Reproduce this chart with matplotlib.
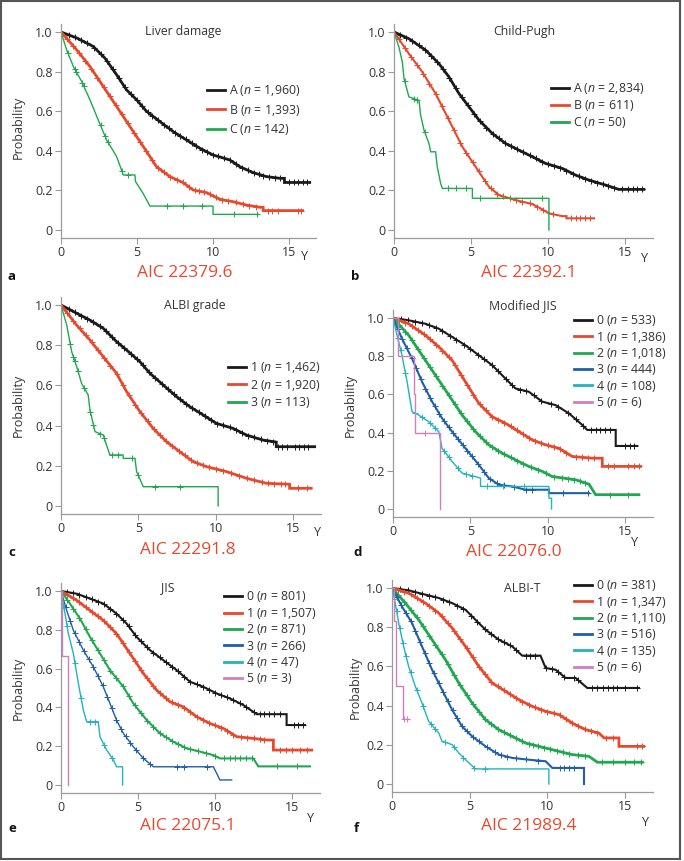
import matplotlib
matplotlib.use("Agg")
import matplotlib.pyplot as plt
import numpy as np
from matplotlib.patches import Rectangle

plt.rcParams['font.family'] = ['Open Sans', 'DejaVu Sans']
plt.rcParams['mathtext.fontset'] = 'custom'
plt.rcParams['mathtext.it'] = 'Open Sans:italic'
plt.rcParams['mathtext.rm'] = 'Open Sans'

W, H = 684, 861
XMAX, YMIN, YMAX = 16.8, -0.04, 1.04

BLACK = '#1a1a1a'
RED = '#e8492d'
GREEN = '#1fa84f'
BLUE = '#1f5fa8'
CYAN = '#22b3bd'
PINK = '#d47cc0'
TXT = '#333333'
AXC = '#9a9a9a'

# ---------------------------------------------------------------- a: Liver damage
a_names = ['A', 'B', 'C']
a_n = ['1,960', '1,393', '142']
a_t0 = [0, 1.03, 2.12, 2.89, 3.66, 4.31, 4.97, 5.63, 6.5, 7.38, 8.25, 9.13, 10.0, 11.1, 11.76, 12.63, 13.5, 14.4, 14.7, 14.7, 16.36]
a_s0 = [1.0, 0.97, 0.927, 0.868, 0.784, 0.708, 0.658, 0.599, 0.548, 0.497, 0.455, 0.413, 0.379, 0.354, 0.32, 0.29, 0.27, 0.261, 0.261, 0.24, 0.24]
a_c0 = [0.5, 0.9, 1.3, 1.7, 2.2, 2.6, 3.0, 3.4, 3.8, 4.2, 4.6, 5.0, 5.3, 5.7, 6.0, 6.4, 6.8, 7.1, 7.5, 7.8, 8.2, 8.6,
        8.9, 9.3, 9.6, 10.0, 10.3, 10.7, 11.1, 11.5, 11.9, 12.3, 12.7, 13.0, 13.3, 13.7, 14.1, 14.4, 15.0, 15.3, 15.6, 15.9, 16.2]
a_t1 = [0, 1.03, 1.9, 2.78, 3.66, 4.53, 5.41, 6.28, 7.16, 8.04, 8.69, 9.57, 10.45, 11.32, 12.2, 13.07, 13.3, 13.3, 15.9]
a_s1 = [1.0, 0.91, 0.826, 0.725, 0.624, 0.523, 0.422, 0.32, 0.27, 0.239, 0.202, 0.189, 0.155, 0.143, 0.126, 0.115, 0.115, 0.098, 0.098]
a_c1 = [0.4, 0.8, 1.2, 1.6, 2.0, 2.4, 2.8, 3.2, 3.6, 4.0, 4.4, 4.8, 5.2, 5.6, 6.0, 6.4, 6.8, 7.2, 7.6, 8.0, 8.4, 8.8,
        9.1, 9.4, 9.8, 10.2, 10.6, 11.0, 11.5, 12.0, 12.4, 12.8, 13.6, 13.9, 14.3, 15.6, 15.8]
a_t2 = [0, 0.37, 0.81, 1.36, 1.9, 2.45, 3.0, 3.66, 4.1, 4.86, 4.9, 5.4, 5.85, 10.0, 10.0, 12.96]
a_s2 = [1.0, 0.91, 0.826, 0.75, 0.658, 0.556, 0.455, 0.371, 0.278, 0.278, 0.245, 0.185, 0.121, 0.121, 0.079, 0.079]
a_c2 = [0.45, 0.9, 1.0, 1.4, 1.5, 2.6, 2.9, 3.1, 4.0, 4.4, 7.0, 8.0, 9.3, 11.4, 12.9]

# ---------------------------------------------------------------- b: Child-Pugh
b_names = ['A', 'B', 'C']
b_n = ['2,834', '611', '50']
b_t0 = [0, 0.97, 2.06, 2.92, 3.57, 4.22, 4.87, 5.52, 6.39, 7.25, 8.12, 8.98, 9.85, 10.93, 11.8, 12.66, 13.74, 14.6, 16.23]
b_s0 = [1.0, 0.966, 0.908, 0.84, 0.773, 0.689, 0.622, 0.555, 0.487, 0.437, 0.403, 0.37, 0.336, 0.311, 0.277, 0.252, 0.227, 0.205, 0.205]
b_c0 = [0.4, 0.8, 1.2, 1.6, 2.0, 2.4, 2.8, 3.2, 3.6, 4.0, 4.4, 4.8, 5.2, 5.6, 6.0, 6.4, 6.8, 7.2, 7.6, 8.0, 8.4, 8.8,
        9.2, 9.6, 10.0, 10.4, 10.8, 11.2, 11.6, 12.0, 12.4, 12.8, 13.2, 13.6, 13.9, 14.3, 14.8, 15.2, 15.5, 15.8, 16.1]
b_t1 = [0, 0.97, 1.84, 2.7, 3.57, 4.44, 5.3, 6.17, 6.82, 7.9, 8.98, 9.63, 10.06, 10.93, 11.2, 11.2, 12.99]
b_s1 = [1.0, 0.89, 0.798, 0.689, 0.555, 0.42, 0.319, 0.218, 0.176, 0.151, 0.131, 0.104, 0.084, 0.07, 0.07, 0.059, 0.059]
b_c1 = [0.3, 0.7, 1.1, 1.5, 1.9, 2.3, 2.7, 3.1, 3.5, 3.9, 4.3, 4.7, 5.1, 5.5, 5.9, 6.3, 6.7, 7.1, 7.5, 7.9, 8.3,
        8.8, 9.3, 9.7, 10.3, 11.5, 11.8, 12.1, 12.4, 12.7]
b_t2 = [0, 0.32, 0.54, 0.65, 0.97, 1.62, 1.73, 1.95, 2.27, 2.38, 2.7, 2.81, 3.03, 3.14, 5.09, 5.09, 10.06, 10.06]
b_s2 = [1.0, 0.924, 0.849, 0.765, 0.672, 0.655, 0.58, 0.504, 0.437, 0.395, 0.395, 0.319, 0.235, 0.21, 0.21, 0.16, 0.16, 0.0]
b_c2 = [0.7, 1.3, 1.5, 2.0, 3.5, 4.0, 4.7, 5.6, 9.6]

# ---------------------------------------------------------------- c: ALBI grade
c_names = ['1', '2', '3']
c_n = ['1,462', '1,920', '113']
c_t0 = [0, 1.01, 1.87, 2.73, 3.59, 4.24, 5.1, 5.75, 6.61, 7.47, 8.33, 9.19, 10.05, 11.13, 11.99, 13.06, 13.92, 13.92, 16.4]
c_s0 = [1.0, 0.959, 0.925, 0.884, 0.818, 0.776, 0.718, 0.66, 0.602, 0.544, 0.494, 0.453, 0.411, 0.386, 0.353, 0.328, 0.318, 0.295, 0.295]
c_c0 = [0.5, 0.9, 1.3, 1.7, 2.1, 2.5, 2.9, 3.3, 3.7, 4.1, 4.5, 4.9, 5.3, 5.7, 6.1, 6.5, 6.9, 7.3, 7.7, 8.1, 8.5,
        8.9, 9.3, 9.7, 10.1, 10.5, 10.9, 11.3, 11.7, 12.1, 12.5, 12.9, 13.3, 13.7, 14.0, 14.3, 14.6, 15.1, 15.4, 15.7, 16.0]
c_t1 = [0, 1.01, 1.87, 2.73, 3.59, 4.24, 5.1, 5.96, 6.82, 7.68, 8.54, 9.4, 10.7, 11.99, 13.28, 14.78, 14.78, 16.18]
c_s1 = [1.0, 0.9, 0.826, 0.743, 0.66, 0.569, 0.47, 0.386, 0.32, 0.27, 0.221, 0.196, 0.171, 0.138, 0.113, 0.108, 0.088, 0.088]
c_c1 = [0.4, 0.8, 1.2, 1.6, 2.0, 2.4, 2.8, 3.2, 3.6, 4.0, 4.4, 4.8, 5.2, 5.6, 6.0, 6.4, 6.8, 7.2, 7.6, 8.0, 8.4, 8.8,
        9.2, 9.6, 10.0, 10.5, 11.0, 11.5, 12.0, 12.5, 13.0, 13.4, 13.8, 14.2, 14.5, 15.3, 15.9]
c_t2 = [0, 0.37, 0.69, 1.01, 1.33, 1.76, 1.87, 2.2, 2.73, 3.16, 4.02, 4.02, 4.78, 4.89, 5.32, 10.16, 10.16]
c_s2 = [1.0, 0.9, 0.768, 0.694, 0.61, 0.552, 0.478, 0.37, 0.353, 0.254, 0.254, 0.237, 0.237, 0.171, 0.096, 0.096, 0.0]
c_c2 = [0.6, 0.8, 0.9, 1.1, 1.5, 1.9, 2.1, 2.5, 2.8, 3.3, 3.7, 4.6, 5.0, 6.1, 7.7]

# ---------------------------------------------------------------- d: Modified JIS
d_names = ['0', '1', '2', '3', '4', '5']
d_n = ['533', '1,386', '1,018', '444', '108', '6']
d_t0 = [0, 1.01, 2.09, 2.96, 3.82, 4.68, 5.55, 6.41, 7.27, 7.92, 8.78, 9.65, 10.51, 11.37, 12.24, 12.56, 14.4, 14.4, 15.8]
d_s0 = [1.0, 0.988, 0.97, 0.944, 0.901, 0.857, 0.805, 0.753, 0.683, 0.631, 0.614, 0.562, 0.544, 0.501, 0.44, 0.414, 0.414, 0.33, 0.33]
d_c0 = [0.5, 1.0, 1.4, 1.9, 2.3, 2.8, 3.2, 3.7, 4.1, 4.6, 5.0, 5.5, 5.9, 6.4, 6.8, 7.3, 7.7, 8.2, 8.6, 9.1, 9.6,
        10.2, 10.7, 11.3, 11.8, 12.3, 12.8, 13.1, 13.4, 13.7, 14.0, 15.0, 15.3, 15.6]
d_t1 = [0, 1.01, 2.09, 2.96, 3.82, 4.68, 5.55, 6.41, 7.27, 8.14, 9.0, 9.86, 10.73, 11.59, 12.89, 13.53, 13.53, 16.0]
d_s1 = [1.0, 0.97, 0.91, 0.849, 0.779, 0.666, 0.553, 0.483, 0.449, 0.405, 0.362, 0.336, 0.318, 0.275, 0.266, 0.266, 0.223, 0.223]
d_c1 = [0.4, 0.8, 1.2, 1.6, 2.0, 2.4, 2.8, 3.2, 3.6, 4.0, 4.4, 4.8, 5.2, 5.6, 6.0, 6.4, 6.8, 7.2, 7.6, 8.0, 8.4, 8.8,
        9.2, 9.6, 10.0, 10.4, 10.8, 11.2, 11.8, 12.2, 12.6, 13.0, 13.9, 14.3, 15.2, 15.6, 15.9]
d_t2 = [0, 1.01, 1.88, 2.74, 3.6, 4.47, 5.33, 6.19, 7.06, 7.92, 8.78, 9.65, 10.3, 11.81, 12.67, 13.1, 15.9]
d_s2 = [1.0, 0.91, 0.805, 0.701, 0.597, 0.492, 0.405, 0.336, 0.292, 0.257, 0.223, 0.197, 0.17, 0.153, 0.13, 0.075, 0.075]
d_c2 = [0.4, 0.8, 1.2, 1.6, 2.0, 2.4, 2.8, 3.2, 3.6, 4.0, 4.4, 4.8, 5.2, 5.6, 6.0, 6.4, 6.8, 7.2, 7.6, 8.0, 8.4,
        8.9, 9.4, 9.9, 10.4, 10.9, 11.3, 11.7, 12.1, 12.4, 14.0, 15.2]
d_t3 = [0, 0.58, 1.23, 1.88, 2.53, 3.17, 3.82, 4.68, 5.55, 6.19, 6.84, 7.71, 8.57, 9.86, 10.08, 10.08, 12.67]
d_s3 = [1.0, 0.892, 0.788, 0.666, 0.562, 0.475, 0.405, 0.318, 0.231, 0.162, 0.127, 0.118, 0.101, 0.101, 0.101, 0.083, 0.083]
d_c3 = [0.3, 0.6, 0.9, 1.2, 1.5, 1.8, 2.1, 2.4, 2.7, 3.0, 3.3, 3.6, 3.9, 4.2, 4.5, 4.8, 5.1, 5.5, 5.9, 6.3, 6.7,
        7.2, 7.8, 8.6, 9.0, 11.0, 12.6]
d_t4 = [0, 0.26, 0.58, 0.91, 1.23, 1.66, 2.31, 2.96, 3.17, 3.82, 4.47, 5.66, 5.66, 10.08, 10.08, 10.25, 10.25]
d_s4 = [1.0, 0.91, 0.805, 0.666, 0.51, 0.492, 0.457, 0.405, 0.318, 0.249, 0.188, 0.162, 0.118, 0.118, 0.057, 0.057, 0.0]
d_c4 = [0.3, 0.5, 0.8, 1.4, 1.9, 2.4, 2.7, 3.3, 3.6, 4.2, 4.7, 5.1, 6.1, 7.1, 8.5]
d_t5 = [0, 0.3, 0.3, 1.34, 1.34, 1.4, 1.4, 3.02, 3.02]
d_s5 = [1.0, 1.0, 0.8, 0.8, 0.6, 0.6, 0.4, 0.4, 0.0]
d_c5 = [2.1]

# ---------------------------------------------------------------- e: JIS
e_names = ['0', '1', '2', '3', '4', '5']
e_n = ['801', '1,507', '871', '266', '47', '3']
e_t0 = [0, 1.02, 1.88, 2.75, 3.61, 4.26, 4.91, 5.78, 6.65, 7.51, 8.38, 9.24, 10.11, 10.97, 11.84, 12.71, 14.65, 14.65, 15.84]
e_s0 = [1.0, 0.986, 0.961, 0.935, 0.883, 0.832, 0.763, 0.695, 0.643, 0.592, 0.532, 0.506, 0.472, 0.446, 0.412, 0.365, 0.365, 0.309, 0.309]
e_c0 = [0.4, 0.8, 1.2, 1.6, 2.0, 2.4, 2.8, 3.2, 3.6, 4.0, 4.4, 4.8, 5.2, 5.6, 6.0, 6.4, 6.8, 7.2, 7.6, 8.0, 8.4,
        8.8, 9.2, 9.6, 10.0, 10.4, 10.8, 11.2, 11.6, 12.0, 12.5, 12.9, 13.2, 13.5, 13.8, 14.2, 15.1, 15.4, 15.7]
e_t1 = [0, 1.02, 1.88, 2.75, 3.61, 4.48, 5.35, 6.21, 7.08, 7.94, 8.81, 9.68, 10.54, 11.41, 12.49, 13.35, 13.79, 13.79, 16.28]
e_s1 = [1.0, 0.952, 0.9, 0.849, 0.78, 0.678, 0.575, 0.489, 0.429, 0.403, 0.352, 0.317, 0.292, 0.249, 0.24, 0.232, 0.232, 0.18, 0.18]
e_c1 = [0.4, 0.8, 1.2, 1.6, 2.0, 2.4, 2.8, 3.2, 3.6, 4.0, 4.4, 4.8, 5.2, 5.6, 6.0, 6.4, 6.8, 7.2, 7.6, 8.0, 8.4,
        8.8, 9.2, 9.6, 10.0, 10.4, 10.8, 11.2, 11.7, 12.1, 12.5, 12.9, 13.2, 14.2, 14.6, 15.0, 15.5, 16.0]
e_t2 = [0, 0.58, 1.23, 1.88, 2.53, 3.18, 4.05, 4.7, 5.56, 6.43, 7.29, 8.16, 9.03, 9.89, 10.32, 12.49, 12.81, 16.17]
e_s2 = [1.0, 0.935, 0.858, 0.763, 0.678, 0.592, 0.506, 0.42, 0.335, 0.266, 0.223, 0.189, 0.172, 0.154, 0.137, 0.137, 0.096, 0.096]
e_c2 = [0.4, 0.8, 1.2, 1.6, 2.0, 2.4, 2.8, 3.2, 3.6, 4.0, 4.4, 4.8, 5.2, 5.6, 6.0, 6.4, 6.8, 7.2, 7.6, 8.0, 8.4,
        8.9, 9.4, 10.0, 10.6, 11.0, 11.3, 11.6, 12.0, 12.4, 14.0, 15.3]
e_t3 = [0, 0.37, 0.8, 1.45, 2.1, 2.75, 3.18, 3.61, 4.05, 4.7, 5.35, 6.0, 9.89, 10.11, 10.32, 11.08]
e_s3 = [1.0, 0.9, 0.798, 0.695, 0.609, 0.506, 0.42, 0.334, 0.266, 0.197, 0.137, 0.094, 0.094, 0.06, 0.026, 0.026]
e_c3 = [0.3, 0.6, 0.9, 1.2, 1.5, 1.8, 2.1, 2.4, 2.7, 3.0, 3.3, 3.6, 3.9, 4.2, 4.5, 4.9, 5.3, 5.8, 7.5, 8.0, 9.5]
e_t4 = [0, 0.26, 0.48, 0.8, 1.13, 1.45, 1.67, 2.42, 2.53, 2.97, 3.4, 3.61, 4.0, 4.0]
e_s4 = [1.0, 0.883, 0.78, 0.678, 0.523, 0.386, 0.326, 0.326, 0.249, 0.18, 0.129, 0.094, 0.094, 0.0]
e_c4 = [0.2, 0.4, 0.9, 1.3, 1.9, 2.2, 2.8, 3.3]
e_t5 = [0, 0.06, 0.06, 0.48, 0.48]
e_s5 = [1.0, 1.0, 0.667, 0.667, 0.0]
e_c5 = []

# ---------------------------------------------------------------- f: ALBI-T
f_names = ['0', '1', '2', '3', '4', '5']
f_n = ['381', '1,347', '1,110', '516', '135', '6']
f_t0 = [0, 1.07, 2.15, 3.01, 3.87, 4.73, 5.37, 6.02, 6.88, 7.74, 8.38, 9.56, 9.89, 10.53, 11.18, 11.82, 12.57, 15.9]
f_s0 = [1.0, 0.988, 0.966, 0.949, 0.923, 0.889, 0.838, 0.787, 0.736, 0.702, 0.655, 0.655, 0.592, 0.583, 0.541, 0.541, 0.49, 0.49]
f_c0 = [0.5, 1.0, 1.5, 1.9, 2.4, 2.8, 3.3, 3.7, 4.2, 4.6, 5.1, 5.5, 6.0, 6.4, 6.8, 7.2, 7.6, 8.0, 8.6, 8.9, 9.2,
        9.9, 10.3, 10.7, 11.1, 11.7, 12.0, 12.9, 13.2, 13.6, 13.9, 14.2, 14.5, 15.0, 15.8]
f_t1 = [0, 1.07, 2.15, 3.01, 3.87, 4.73, 5.59, 6.45, 7.31, 8.17, 9.03, 9.89, 10.75, 11.6, 12.47, 13.32, 13.65, 14.61, 14.61, 16.22]
f_s1 = [1.0, 0.974, 0.923, 0.872, 0.796, 0.702, 0.6, 0.515, 0.473, 0.43, 0.396, 0.371, 0.354, 0.311, 0.277, 0.26, 0.235, 0.235, 0.192, 0.192]
f_c1 = [0.4, 0.8, 1.2, 1.6, 2.0, 2.4, 2.8, 3.2, 3.6, 4.0, 4.4, 4.8, 5.2, 5.6, 6.0, 6.4, 6.8, 7.2, 7.6, 8.0, 8.4,
        8.8, 9.2, 9.6, 10.0, 10.4, 10.8, 11.2, 11.6, 12.0, 12.4, 12.8, 13.2, 13.8, 14.2, 15.8, 16.1]
f_t2 = [0, 0.86, 1.72, 2.58, 3.44, 4.3, 5.16, 6.02, 6.88, 7.74, 8.6, 9.46, 10.32, 11.6, 12.68, 13.22, 16.12]
f_s2 = [1.0, 0.923, 0.838, 0.736, 0.634, 0.515, 0.413, 0.328, 0.277, 0.243, 0.209, 0.192, 0.175, 0.15, 0.141, 0.111, 0.111]
f_c2 = [0.4, 0.8, 1.2, 1.6, 2.0, 2.4, 2.8, 3.2, 3.6, 4.0, 4.4, 4.8, 5.2, 5.6, 6.0, 6.4, 6.8, 7.2, 7.6, 8.0, 8.4,
        8.8, 9.1, 9.4, 9.8, 10.2, 10.6, 11.0, 11.4, 12.0, 12.4, 13.5, 14.2, 15.0, 15.6, 16.0]
f_t3 = [0, 0.64, 1.29, 1.93, 2.58, 3.22, 3.87, 4.51, 5.16, 6.02, 6.88, 7.74, 8.81, 9.89, 10.32, 12.36, 12.36]
f_s3 = [1.0, 0.906, 0.821, 0.702, 0.583, 0.481, 0.379, 0.294, 0.243, 0.192, 0.15, 0.133, 0.124, 0.116, 0.082, 0.082, 0.0]
f_c3 = [0.3, 0.6, 0.9, 1.2, 1.5, 1.8, 2.1, 2.4, 2.7, 3.0, 3.3, 3.6, 3.9, 4.2, 4.5, 4.8, 5.2, 5.6, 6.1, 6.6, 7.0,
        7.4, 8.0, 8.6, 9.4, 10.8, 11.1, 11.4, 11.7]
f_t4 = [0, 0.21, 0.43, 0.75, 1.07, 1.5, 1.93, 2.36, 3.01, 3.22, 3.87, 4.3, 4.84, 5.37, 10.1, 10.1]
f_s4 = [1.0, 0.923, 0.821, 0.702, 0.6, 0.498, 0.413, 0.32, 0.26, 0.218, 0.201, 0.158, 0.116, 0.077, 0.077, 0.0]
f_c4 = [0.15, 0.3, 0.5, 0.7, 0.9, 1.2, 1.6, 2.0, 2.5, 2.8, 3.4, 4.0, 4.6, 5.3, 6.0]
f_t5 = [0, 0.1, 0.1, 0.26, 0.26, 0.68, 0.68, 1.07]
f_s5 = [1.0, 1.0, 0.833, 0.833, 0.5, 0.5, 0.333, 0.333]
f_c5 = [0.8, 0.95]

titles = ['Liver damage', 'Child-Pugh', 'ALBI grade', 'Modified JIS', 'JIS', 'ALBI-T']
aic = ['AIC 22379.6', 'AIC 22392.1', 'AIC 22291.8', 'AIC 22076.0', 'AIC 22075.1', 'AIC 21989.4']
letters = ['a', 'b', 'c', 'd', 'e', 'f']
colors = [BLACK, RED, GREEN, BLUE, CYAN, PINK]

y_ticks = [0, 0.2, 0.4, 0.6, 0.8, 1.0]
y_ticklabels = ['0', '0.2', '0.4', '0.6', '0.8', '1.0']
x_ticks = [0, 5, 10, 15]

# layout in image pixels: x of 0, x of 15, y of 1.0, y of 0
frames = [(61, 289, 32, 230), (394, 625, 32, 230),
          (61, 293, 305, 506), (393, 625, 318, 509),
          (61, 292, 591, 785), (392, 625, 588, 784)]
title_xy = [(183, 32), (524, 32), (195, 306), (523, 306), (168, 588), (522, 588)]
aic_xy = [(185, 273), (529, 273), (188, 550), (514, 552), (188, 826), (529, 826)]
letter_xy = [(12, 276), (355, 276), (12, 553), (358, 553), (12, 829), (356, 829)]
yunit_xy = [(304, 257), (644, 258), (317, 532), (634, 543), (310, 818), (645, 822)]
ylabel_xy = [(18, 127), None, (18, 405), (350, 405), (18, 688), (355, 687)]
legend_xy = [(207, 91, 18.5), (551, 89, 16.0), (228, 368, 16.5),
             (574, 321, 15.6), (224, 597, 15.7), (574, 586, 15.6)]

curves = [
    [(a_t0, a_s0, a_c0), (a_t1, a_s1, a_c1), (a_t2, a_s2, a_c2)],
    [(b_t0, b_s0, b_c0), (b_t1, b_s1, b_c1), (b_t2, b_s2, b_c2)],
    [(c_t0, c_s0, c_c0), (c_t1, c_s1, c_c1), (c_t2, c_s2, c_c2)],
    [(d_t0, d_s0, d_c0), (d_t1, d_s1, d_c1), (d_t2, d_s2, d_c2),
     (d_t3, d_s3, d_c3), (d_t4, d_s4, d_c4), (d_t5, d_s5, d_c5)],
    [(e_t0, e_s0, e_c0), (e_t1, e_s1, e_c1), (e_t2, e_s2, e_c2),
     (e_t3, e_s3, e_c3), (e_t4, e_s4, e_c4), (e_t5, e_s5, e_c5)],
    [(f_t0, f_s0, f_c0), (f_t1, f_s1, f_c1), (f_t2, f_s2, f_c2),
     (f_t3, f_s3, f_c3), (f_t4, f_s4, f_c4), (f_t5, f_s5, f_c5)],
]
group_names = [a_names, b_names, c_names, d_names, e_names, f_names]
group_n = [a_n, b_n, c_n, d_n, e_n, f_n]


def fxy(x, y):
    return x / W, 1 - y / H


def width_for(n_text):
    # bigger groups have so many censor ticks that the curve reads as a thick band
    n = int(n_text.replace(',', ''))
    if n >= 1000:
        return 2.0
    if n >= 300:
        return 1.5
    return 1.0


def draw_panel(fig, k):
    x0, x15, y1, y0 = frames[k]
    ppx = (x15 - x0) / 15.0
    ppy = y0 - y1
    right = x0 + XMAX * ppx
    top = y1 - (YMAX - 1.0) * ppy
    bottom = y0 - YMIN * ppy
    ax = fig.add_axes([x0 / W, 1 - bottom / H, (right - x0) / W, (bottom - top) / H])
    ax.set_xlim(0, XMAX)
    ax.set_ylim(YMIN, YMAX)
    for side in ['top', 'right']:
        ax.spines[side].set_visible(False)
    for side in ['left', 'bottom']:
        ax.spines[side].set_color(AXC)
        ax.spines[side].set_linewidth(0.9)
    ax.set_xticks(x_ticks)
    ax.set_yticks(y_ticks)
    ax.set_yticklabels(y_ticklabels)
    ax.tick_params(colors=AXC, labelcolor=TXT, labelsize=9, length=4, width=0.8, pad=2)

    handles = []
    for (t, s, cens), col, n_text in zip(curves[k], colors, group_n[k]):
        line, = ax.plot(t, s, color=col, lw=width_for(n_text), solid_joinstyle='miter')
        if len(cens):
            ax.plot(cens, np.interp(cens, t, s), '+', color=col, ms=5, mew=0.7)
        handles.append(line)

    labels = [f"{g} ($\\it{{n}}$ = {n})" for g, n in zip(group_names[k], group_n[k])]
    lx, ly, sp = legend_xy[k]
    fs = 8.8
    fs_px = fs * 100 / 72.0
    leg = ax.legend(handles, labels, loc='upper left', bbox_to_anchor=fxy(lx, ly - 0.62 * fs_px),
                    bbox_transform=fig.transFigure, frameon=False, fontsize=fs, borderpad=0,
                    borderaxespad=0, handlelength=1.45, handletextpad=0.35,
                    labelspacing=(sp - 1.17 * fs_px) / fs_px, labelcolor=TXT)
    for h in leg.legend_handles:
        h.set_linewidth(2.0)

    fig.text(*fxy(*title_xy[k]), titles[k], ha='center', va='center', fontsize=8.8, color=TXT)
    fig.text(*fxy(*aic_xy[k]), aic[k], ha='center', va='center', fontsize=12.5, color=RED,
             family=['Liberation Sans Narrow', 'Open Sans'])
    fig.text(*fxy(*letter_xy[k]), letters[k], ha='center', va='center', fontsize=9.5,
             fontweight='bold', color='#111111')
    fig.text(*fxy(*yunit_xy[k]), 'Y', ha='center', va='center', fontsize=9, color=TXT)
    if ylabel_xy[k] is not None:
        fig.text(*fxy(*ylabel_xy[k]), 'Probability', ha='center', va='center', fontsize=9,
                 rotation=90, color=TXT)


fig = plt.figure(figsize=(W / 100, H / 100), dpi=100)
for k in range(6):
    draw_panel(fig, k)

fig.add_artist(Rectangle((1 / W, 1 - 859 / H), 679 / W, 858 / H, transform=fig.transFigure,
                         fill=False, ec='#555555', lw=1.5))

fig.savefig('out.png', dpi=100)
